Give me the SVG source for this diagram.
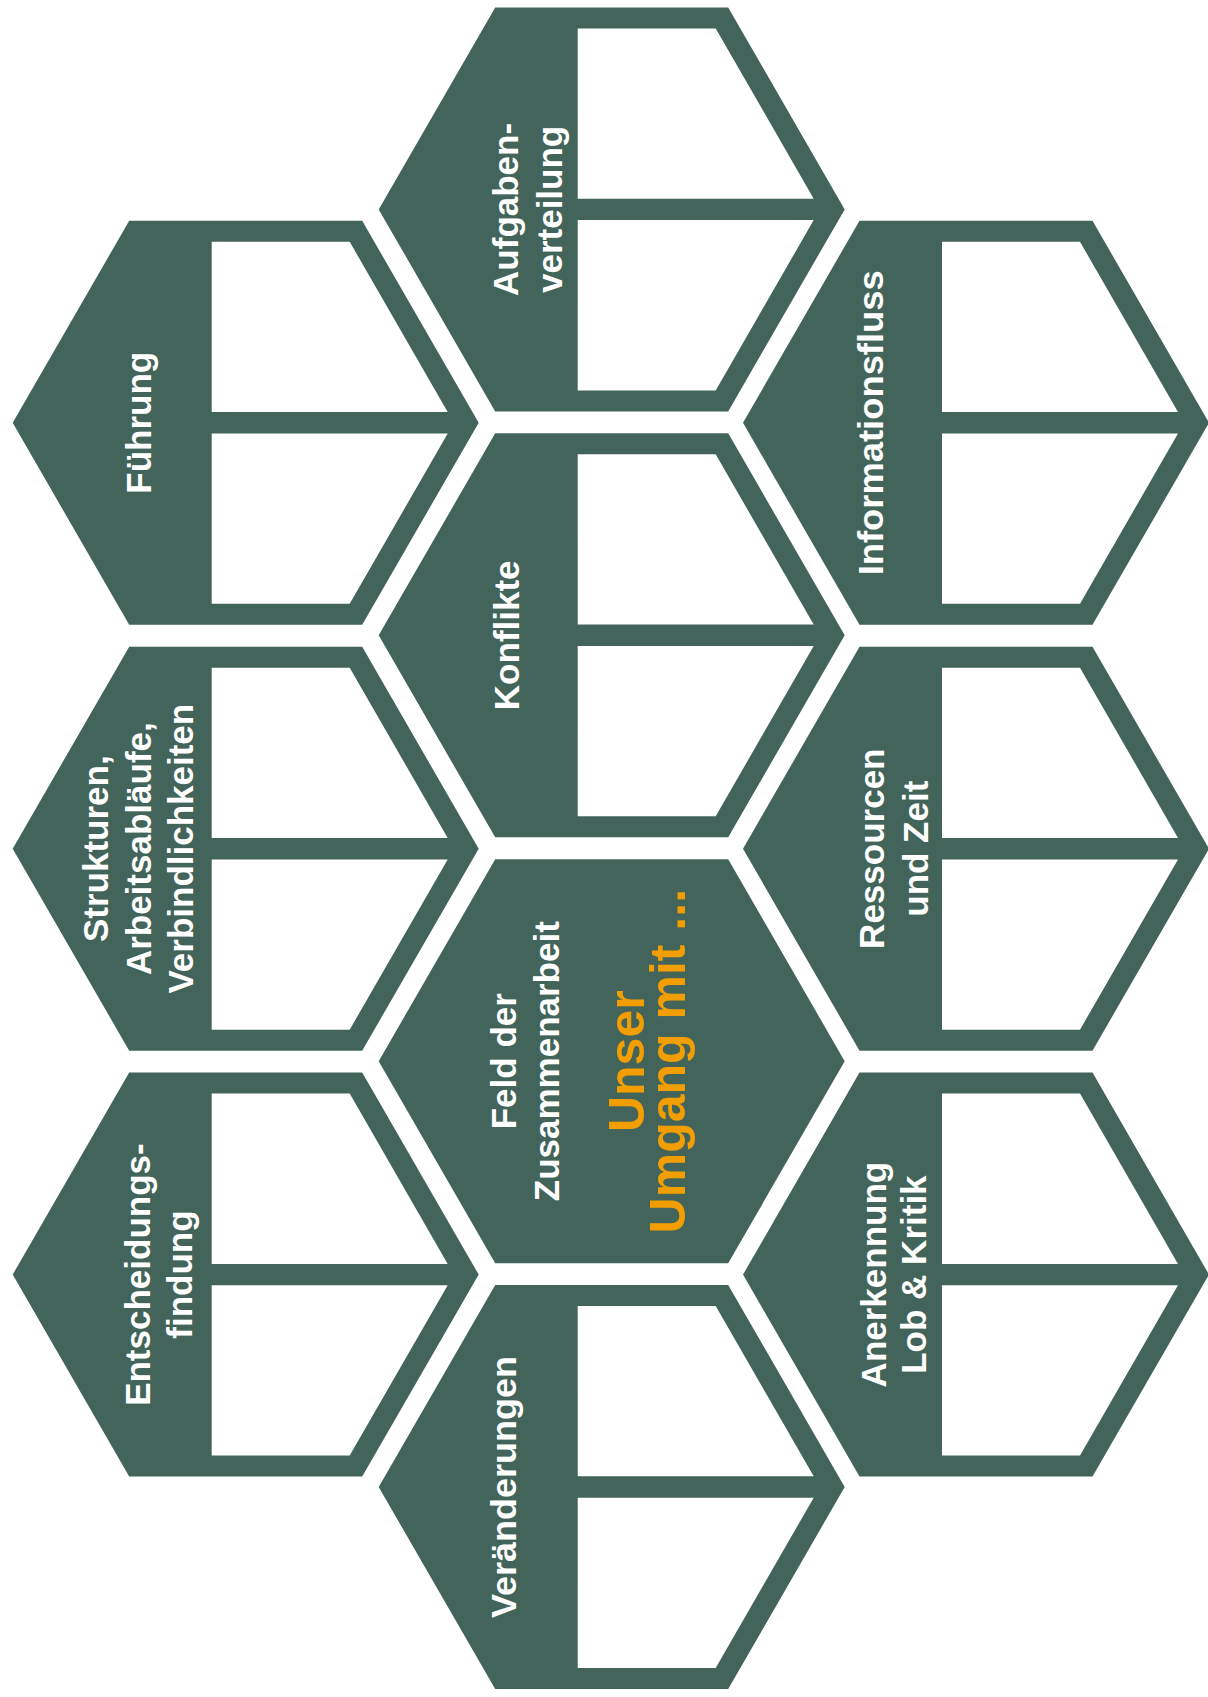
<svg xmlns="http://www.w3.org/2000/svg" xmlns:xlink="http://www.w3.org/1999/xlink" width="1208" height="1697" viewBox="0 0 1208 1697">
  <style>
    .hex{fill:#43645a}
    .cell{fill:#ffffff}
    .lbl{font-family:"Liberation Sans",Arial,sans-serif;font-weight:bold;font-size:35px;fill:#ffffff;text-anchor:middle}
    .hl{fill:#f29e00;font-size:50px}
  </style>
  <defs>
    <polygon id="hex" points="-233,0 -116.5,-202 116.5,-202 233,0 116.5,202 -116.5,202"/>
    <g id="cells">
      <polygon class="cell" points="-34,-181 104,-181 202,-10.7 -34,-10.7"/>
      <polygon class="cell" points="-34,10.7 202,10.7 104,181 -34,181"/>
    </g>
  </defs>
  <rect width="1208" height="1697" fill="#ffffff"/>
  <g id="connectors"/>

  <g id="node-fuehrung" transform="translate(245.7,422.8)">
    <use href="#hex" class="hex"/><use href="#cells"/>
    <text class="lbl" transform="translate(-95,0) rotate(-90)">Führung</text>
  </g>

  <g id="node-strukturen" transform="translate(245.7,848.7)">
    <use href="#hex" class="hex"/><use href="#cells"/>
    <text class="lbl" transform="translate(-138,0) rotate(-90)">Strukturen,</text>
    <text class="lbl" transform="translate(-95,0) rotate(-90)">Arbeitsabläufe,</text>
    <text class="lbl" transform="translate(-53,0) rotate(-90)">Verbindlichkeiten</text>
  </g>

  <g id="node-entscheidung" transform="translate(245.7,1274.6)">
    <use href="#hex" class="hex"/><use href="#cells"/>
    <text class="lbl" transform="translate(-96,0) rotate(-90)">Entscheidungs-</text>
    <text class="lbl" transform="translate(-54,0) rotate(-90)">findung</text>
  </g>

  <g id="node-aufgaben" transform="translate(611.7,209.4)">
    <use href="#hex" class="hex"/><use href="#cells"/>
    <text class="lbl" transform="translate(-94,0) rotate(-90)">Aufgaben-</text>
    <text class="lbl" transform="translate(-50,0) rotate(-90)">verteilung</text>
  </g>

  <g id="node-konflikte" transform="translate(611.7,635.3)">
    <use href="#hex" class="hex"/><use href="#cells"/>
    <text class="lbl" transform="translate(-93,0) rotate(-90)">Konflikte</text>
  </g>

  <g id="node-feld" transform="translate(611.7,1061.2)">
    <use href="#hex" class="hex"/>
    <text class="lbl" transform="translate(-96,0) rotate(-90)">Feld der</text>
    <text class="lbl" transform="translate(-53,0) rotate(-90)">Zusammenarbeit</text>
    <text class="lbl hl" transform="translate(32,0) rotate(-90)">Unser</text>
    <text class="lbl hl" transform="translate(73,0) rotate(-90)">Umgang mit ...</text>
  </g>

  <g id="node-veraenderungen" transform="translate(611.7,1487)">
    <use href="#hex" class="hex"/><use href="#cells"/>
    <text class="lbl" transform="translate(-96,0) rotate(-90)" textLength="262" lengthAdjust="spacingAndGlyphs">Veränderungen</text>
  </g>

  <g id="node-information" transform="translate(976,422.8)">
    <use href="#hex" class="hex"/><use href="#cells"/>
    <text class="lbl" transform="translate(-93,0) rotate(-90)" textLength="305" lengthAdjust="spacingAndGlyphs">Informationsfluss</text>
  </g>

  <g id="node-ressourcen" transform="translate(976,848.7)">
    <use href="#hex" class="hex"/><use href="#cells"/>
    <text class="lbl" transform="translate(-92,0) rotate(-90)">Ressourcen</text>
    <text class="lbl" transform="translate(-48,0) rotate(-90)">und Zeit</text>
  </g>

  <g id="node-anerkennung" transform="translate(976,1274.6)">
    <use href="#hex" class="hex"/><use href="#cells"/>
    <text class="lbl" transform="translate(-90,0) rotate(-90)">Anerkennung</text>
    <text class="lbl" transform="translate(-50,0) rotate(-90)">Lob &amp; Kritik</text>
  </g>
</svg>
